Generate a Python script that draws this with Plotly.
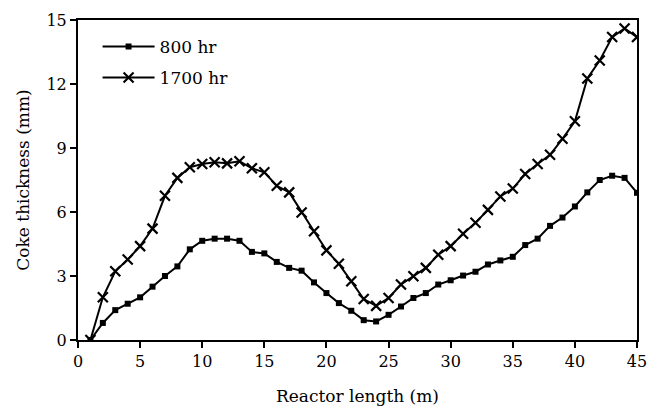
import plotly.graph_objects as go

x_m = list(range(1, 46))
coke_800 = [0, 0.8, 1.4, 1.7, 2.0, 2.5, 3.0, 3.45, 4.25, 4.65, 4.75, 4.75, 4.65, 4.13, 4.06,
            3.66, 3.38, 3.25, 2.7, 2.2, 1.73, 1.37, 0.93, 0.87, 1.18, 1.57, 1.97, 2.2, 2.6, 2.8,
            3.02, 3.2, 3.54, 3.73, 3.9, 4.45, 4.75, 5.35, 5.74, 6.26, 6.92, 7.5, 7.7, 7.6, 6.9]
coke_1700 = [0, 2.0, 3.22, 3.77, 4.4, 5.22, 6.76, 7.6, 8.1, 8.25, 8.33, 8.28, 8.38, 8.05, 7.86,
             7.23, 6.92, 5.98, 5.1, 4.2, 3.57, 2.75, 1.92, 1.6, 1.97, 2.6, 2.99, 3.38, 4.0, 4.4,
             4.98, 5.5, 6.1, 6.73, 7.1, 7.78, 8.25, 8.68, 9.43, 10.25, 12.26, 13.1, 14.2, 14.6, 14.2]
series_names = ["800 hr", "1700 hr"]
x_ticks = [0, 5, 10, 15, 20, 25, 30, 35, 40, 45]
y_ticks = [0, 3, 6, 9, 12, 15]

FONT = "DejaVu Serif"

fig = go.Figure()
fig.add_trace(go.Scatter(x=x_m, y=coke_800, name=series_names[0], mode="lines+markers",
                         line=dict(color="black", width=2),
                         marker=dict(symbol="square", size=6, color="black"),
                         legend="legend"))
fig.add_trace(go.Scatter(x=x_m, y=coke_1700, name=series_names[1], mode="lines+markers",
                         line=dict(color="black", width=2),
                         marker=dict(symbol="x-thin", size=10, color="black",
                                     line=dict(color="black", width=2.2)),
                         legend="legend2"))

axis_common = dict(showgrid=False, zeroline=False, showline=True, linecolor="black",
                   linewidth=2, mirror=True, ticks="outside", ticklen=6, tickwidth=2,
                   tickcolor="black", automargin=False,
                   tickfont=dict(family=FONT, size=16, color="black"))
fig.update_xaxes(range=[0, 45], tickvals=x_ticks, **axis_common,
                 title=dict(text="Reactor length (m)", font=dict(family=FONT, size=17, color="black"),
                            standoff=20))
fig.update_yaxes(range=[0, 15], tickvals=y_ticks, **axis_common,
                 title=dict(text="Coke thickness (mm)", font=dict(family=FONT, size=17, color="black"),
                            standoff=12))
leg_common = dict(xanchor="left", yanchor="middle", bgcolor="rgba(0,0,0,0)",
                  font=dict(family=FONT, size=17, color="black"), itemwidth=52)
fig.update_layout(
    width=656, height=409,
    margin=dict(l=78, r=19, t=20, b=69),
    paper_bgcolor="white", plot_bgcolor="white",
    showlegend=True,
    legend=dict(x=0.035, y=0.916, **leg_common),
    legend2=dict(x=0.035, y=0.819, **leg_common),
)
fig.write_html("out.html")
